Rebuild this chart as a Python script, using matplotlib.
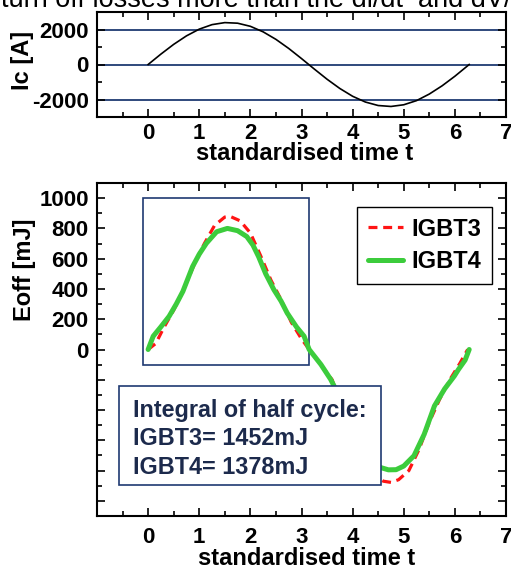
import matplotlib
matplotlib.use("Agg")
import matplotlib.pyplot as plt
from matplotlib.patches import Rectangle
from matplotlib.ticker import FixedLocator, MultipleLocator, FixedFormatter

plt.rcParams['font.family'] = ['Liberation Sans', 'DejaVu Sans']
plt.rcParams['font.weight'] = 'bold'
plt.rcParams['axes.labelweight'] = 'bold'
plt.rcParams['axes.unicode_minus'] = False

# ---- data ----
header_text = "turn off losses more than the di/dt  and dV/"

ic_t = [0, 0.25, 0.5, 0.75, 1.0, 1.25, 1.5, 1.75, 2.0, 2.25, 2.5, 2.75, 3.0, 3.25,
        3.5, 3.75, 4.0, 4.25, 4.5, 4.75, 5.0, 5.25, 5.5, 5.75, 6.0, 6.28]
ic_val = [0, 594, 1151, 1636, 2020, 2278, 2394, 2360, 2182, 1865, 1436, 917, 339, -259,
          -842, -1371, -1816, -2145, -2344, -2398, -2301, -2064, -1688, -1218, -671, 0]
ic_ref_lines = [2000, 0, -2000]

igbt3_t = [0, 0.15, 0.3, 0.5, 0.7, 0.9, 1.1, 1.3, 1.5, 1.6, 1.8, 2.0, 2.2, 2.4, 2.6, 2.8,
           3.0, 3.15, 3.4, 3.6, 3.8, 4.0, 4.2, 4.4, 4.6, 4.75, 4.9, 5.1, 5.3, 5.5, 5.7,
           5.9, 6.1, 6.25]
igbt3_e = [0, 40, 140, 260, 400, 560, 700, 820, 875, 880, 850, 770, 620, 460, 330, 180,
           70, 0, -110, -200, -400, -560, -700, -820, -870, -878, -860, -800, -660, -480,
           -330, -200, -90, 0]

igbt4_t = [0, 0.1, 0.25, 0.41, 0.55, 0.68, 0.87, 1.0, 1.14, 1.34, 1.55, 1.75, 1.93, 2.05,
           2.16, 2.3, 2.46, 2.6, 2.72, 2.9, 3.05, 3.15, 3.38, 3.57, 3.65, 3.9, 4.1, 4.3,
           4.5, 4.7, 4.85, 5.0, 5.2, 5.4, 5.6, 5.8, 5.99, 6.07, 6.2, 6.28]
igbt4_e = [0, 88, 150, 219, 300, 384, 548, 630, 702, 778, 800, 785, 746, 690, 614, 500,
           395, 320, 241, 150, 88, 0, -99, -197, -250, -450, -600, -720, -775, -795, -794,
           -770, -702, -560, -373, -260, -175, -132, -70, 0]

series_names = ["IGBT3", "IGBT4"]
x_ticks = [0, 1, 2, 3, 4, 5, 6, 7]
ic_yticks = [-2000, 0, 2000]
e_yticks = [-1000, -800, -600, -400, -200, 0, 200, 400, 600, 800, 1000]
box_lines = ["Integral of half cycle:", "IGBT3= 1452mJ", "IGBT4= 1378mJ"]

navy = '#1f3a72'
textnavy = '#1c2a4c'

fig = plt.figure(figsize=(5.11, 5.7), dpi=100)
fig.text(0.002, 1 - 7.3 / 570, header_text, fontsize=19.5, fontweight='normal',
         va='baseline', ha='left', color='black')

ax1 = fig.add_axes([97 / 511, 1 - 117 / 570, 409 / 511, 105 / 570])
ax2 = fig.add_axes([97 / 511, 1 - 516 / 570, 409 / 511, 333 / 570])

for ax in (ax1, ax2):
    for s in ax.spines.values():
        s.set_linewidth(1.5)
    ax.tick_params(which='both', direction='in', top=True, right=True, width=1.2,
                   labelsize=16, pad=6)
    ax.tick_params(which='major', length=6)
    ax.tick_params(which='minor', length=3.5)
    ax.set_xlim(-1, 7)
    ax.xaxis.set_major_locator(FixedLocator(x_ticks))
    ax.xaxis.set_minor_locator(MultipleLocator(0.5))

# ---- top chart ----
for yv in ic_ref_lines:
    ax1.axhline(yv, color=navy, lw=1.3, zorder=1)
ax1.plot(ic_t, ic_val, color='black', lw=1.2, zorder=2)
ax1.set_ylim(-3000, 3000)
ax1.yaxis.set_major_locator(FixedLocator(ic_yticks))
ax1.yaxis.set_minor_locator(MultipleLocator(1000))
ax1.tick_params(axis='x', pad=4)
ax1.set_xlabel("standardised time t", fontsize=17)
ax1.xaxis.label.set_va('center')
ax1.xaxis.set_label_coords(0.507, -0.345)
ax1.set_ylabel("Ic [A]", fontsize=17)
ax1.yaxis.label.set_va('center')
ax1.yaxis.label.set_rotation_mode('default')
ax1.yaxis.set_label_coords(-0.183, 0.543)

# ---- bottom chart ----
ax2.add_patch(Rectangle((-0.1, -100), 3.24, 1100, fill=False, edgecolor=navy, lw=1.2,
                        zorder=1))
ax2.plot(igbt3_t, igbt3_e, color='#ff1414', lw=2.3, dashes=(2.8, 1.8),
         label=series_names[0], zorder=2)
ax2.plot(igbt4_t, igbt4_e, color='#3ccc3c', lw=3.6, label=series_names[1],
         solid_capstyle='round', zorder=3)
ax2.set_ylim(-1100, 1100)
ax2.yaxis.set_major_locator(FixedLocator(e_yticks))
ax2.yaxis.set_major_formatter(FixedFormatter([str(v) if v >= 0 else '' for v in e_yticks]))
ax2.yaxis.set_minor_locator(MultipleLocator(100))
ax2.tick_params(axis='x', pad=8)
ax2.set_xlabel("standardised time t", fontsize=17)
ax2.xaxis.label.set_va('center')
ax2.xaxis.set_label_coords(0.513, -0.129)
ax2.set_ylabel("Eoff [mJ]", fontsize=17)
ax2.yaxis.label.set_va('center')
ax2.yaxis.label.set_rotation_mode('default')
ax2.yaxis.set_label_coords(-0.178, 0.739)

leg = ax2.legend(loc='upper right', bbox_to_anchor=(0.966, 0.928), borderaxespad=0,
                 fancybox=False, framealpha=1, edgecolor='black', fontsize=17,
                 handlelength=1.5, handletextpad=0.35, labelspacing=0.4, borderpad=0.45)
leg.get_frame().set_linewidth(1.0)

ax2.add_patch(Rectangle((0.0538, 0.093), 0.694 - 0.0538, 0.39 - 0.093,
                        transform=ax2.transAxes, facecolor='white', edgecolor=navy,
                        lw=1.2, zorder=5))
for yy, line in zip([0.318, 0.234, 0.147], box_lines):
    ax2.text(0.088, yy, line, transform=ax2.transAxes, fontsize=16.8, color=textnavy,
             va='center', ha='left', zorder=6)

fig.savefig("out.png", dpi=100)
